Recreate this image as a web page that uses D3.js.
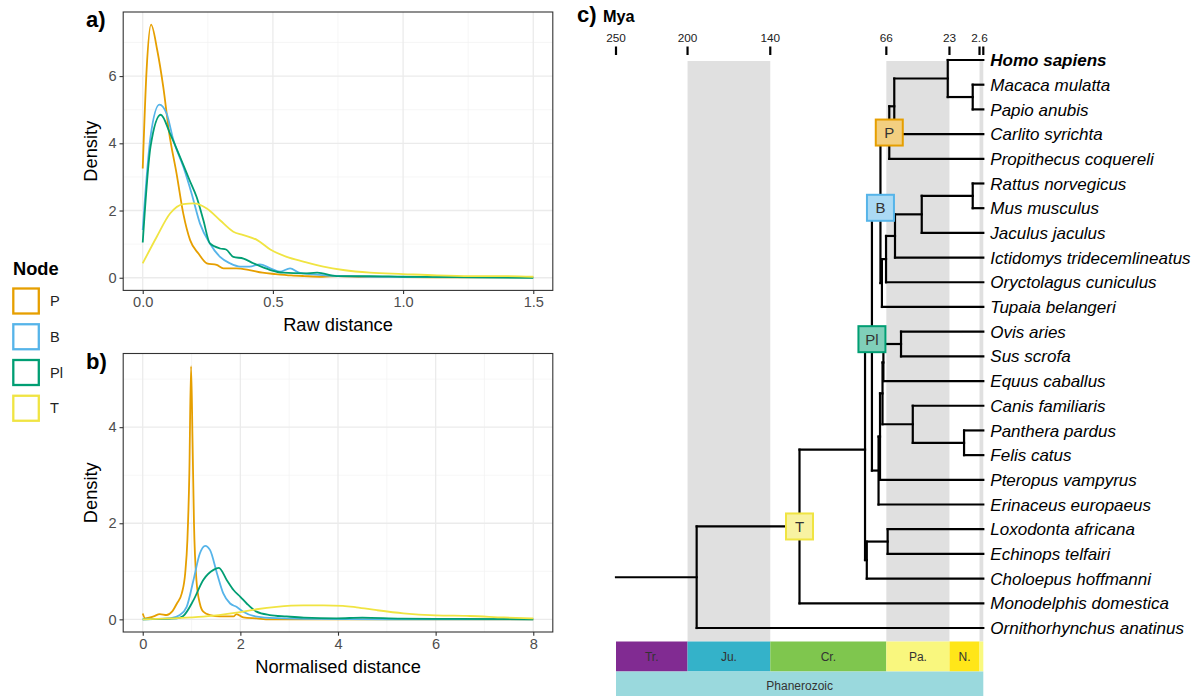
<!DOCTYPE html>
<html>
<head>
<meta charset="utf-8">
<script src="https://cdn.jsdelivr.net/npm/d3@7"></script>
<style>
  body { margin: 0; background: #fff; }
  svg { font-family: "Liberation Sans", Arial, Helvetica, sans-serif; }
</style>
</head>
<body>
<svg id="fig" width="1197" height="696"></svg>
<script>
// ---------- data ----------
const nodeNames = ["P", "B", "Pl", "T"];
const nodeColors = ["#E69F00", "#56B4E9", "#009E73", "#F0E442"];

// density curves, panel a (raw distance)
const rawP = [[0,3.25],[0.015,6.2],[0.032,7.53],[0.056,6.76],[0.079,5.67],[0.102,4.29],[0.13,3.1],[0.156,1.9],[0.182,1.12],[0.214,0.72],[0.246,0.43],[0.284,0.38],[0.31,0.28],[0.36,0.28],[0.41,0.23],[0.46,0.15],[0.51,0.11],[0.57,0.07],[0.62,0.05],[0.69,0.03],[0.75,0.05],[0.85,0.02],[1.0,0.02],[1.2,0.01],[1.5,0.01]];
const rawB = [[0,1.42],[0.03,4.2],[0.064,5.15],[0.092,4.88],[0.118,4.09],[0.156,3.3],[0.188,2.5],[0.22,1.61],[0.258,1.02],[0.297,0.62],[0.335,0.43],[0.374,0.33],[0.41,0.33],[0.45,0.4],[0.49,0.28],[0.527,0.18],[0.566,0.28],[0.6,0.15],[0.655,0.1],[0.72,0.06],[0.87,0.03],[1.1,0.02],[1.5,0.005]];
const rawPl = [[0,1.05],[0.03,3.9],[0.069,4.85],[0.105,4.29],[0.143,3.6],[0.18,2.9],[0.207,2.4],[0.233,1.71],[0.258,1.02],[0.297,0.87],[0.32,0.84],[0.348,0.62],[0.387,0.57],[0.425,0.43],[0.49,0.23],[0.54,0.15],[0.617,0.13],[0.67,0.15],[0.745,0.05],[0.87,0.05],[1.0,0.03],[1.2,0.02],[1.5,0.0]];
const rawT = [[0,0.43],[0.054,1.22],[0.105,1.91],[0.156,2.19],[0.195,2.21],[0.246,2.06],[0.297,1.71],[0.348,1.37],[0.387,1.27],[0.44,1.12],[0.49,0.84],[0.553,0.62],[0.617,0.48],[0.694,0.33],[0.77,0.23],[0.873,0.15],[1.0,0.11],[1.13,0.07],[1.26,0.05],[1.38,0.05],[1.5,0.03]];

// density curves, panel b (normalised distance)
const normP = [[0,0.12],[0.05,0.02],[0.22,0.06],[0.35,0.11],[0.49,0.09],[0.6,0.16],[0.7,0.33],[0.8,0.54],[0.87,0.96],[0.915,1.65],[0.955,3.04],[0.99,5.27],[1.02,3.73],[1.05,2.0],[1.1,0.82],[1.17,0.33],[1.24,0.16],[1.38,0.09],[1.58,0.06],[1.86,0.06],[1.92,0.11],[2.06,0.04],[2.33,0.02],[2.6,0.0],[8,0.0]];
const normB = [[0,0],[0.56,0.02],[0.76,0.09],[0.9,0.26],[1.04,0.82],[1.17,1.37],[1.28,1.53],[1.38,1.44],[1.52,0.96],[1.65,0.54],[1.79,0.33],[1.92,0.26],[2.06,0.16],[2.27,0.07],[2.6,0.03],[3.3,0.01],[5,0.0],[8,0.0]];
const normPl = [[0,0],[0.7,0.02],[0.83,0.07],[1.04,0.4],[1.24,0.82],[1.45,1.03],[1.56,1.07],[1.72,0.82],[1.86,0.61],[2.0,0.47],[2.13,0.33],[2.33,0.16],[2.6,0.09],[2.95,0.06],[3.3,0.035],[3.97,0.02],[4.5,0.035],[5.3,0.014],[6.5,0.01],[8,0.0]];
const normT = [[0,0],[0.56,0.02],[1.24,0.055],[1.92,0.14],[2.33,0.21],[2.74,0.26],[3.29,0.29],[3.7,0.29],[4.1,0.28],[4.38,0.25],[4.8,0.19],[5.34,0.125],[6.0,0.083],[6.7,0.07],[7.4,0.04],[8,0.02]];

const rawTicksX = [0, 0.5, 1.0, 1.5];
const rawTicksY = [0, 2, 4, 6];
const normTicksX = [0, 2, 4, 6, 8];
const normTicksY = [0, 2, 4];

// tree: tips top to bottom, clades as [name, age (Mya), children]
const taxa = ["Homo sapiens", "Macaca mulatta", "Papio anubis", "Carlito syrichta", "Propithecus coquereli",
  "Rattus norvegicus", "Mus musculus", "Jaculus jaculus", "Ictidomys tridecemlineatus", "Oryctolagus cuniculus",
  "Tupaia belangeri", "Ovis aries", "Sus scrofa", "Equus caballus", "Canis familiaris", "Panthera pardus",
  "Felis catus", "Pteropus vampyrus", "Erinaceus europaeus", "Loxodonta africana", "Echinops telfairi",
  "Choloepus hoffmanni", "Monodelphis domestica", "Ornithorhynchus anatinus"];
const clades = [
  ["Cercopithecidae", 7.2, ["Macaca mulatta", "Papio anubis"]],
  ["Catarrhini", 24.2, ["Homo sapiens", "Cercopithecidae"]],
  ["Haplorhini", 60.6, ["Catarrhini", "Carlito syrichta"]],
  ["Primates", 64.0, ["Haplorhini", "Propithecus coquereli"]],
  ["Murinae", 7.2, ["Rattus norvegicus", "Mus musculus"]],
  ["Myodonta", 41.9, ["Murinae", "Jaculus jaculus"]],
  ["Rodentia", 60.1, ["Myodonta", "Ictidomys tridecemlineatus"]],
  ["Glires", 66.2, ["Rodentia", "Oryctolagus cuniculus"]],
  ["GliresScandentia", 69.0, ["Glires", "Tupaia belangeri"]],
  ["Euarchontoglires", 70.0, ["Primates", "GliresScandentia"]],
  ["Cetartiodactyla", 56.0, ["Ovis aries", "Sus scrofa"]],
  ["Euungulata", 68.0, ["Cetartiodactyla", "Equus caballus"]],
  ["Felidae", 13.1, ["Panthera pardus", "Felis catus"]],
  ["Carnivora", 48.0, ["Canis familiaris", "Felidae"]],
  ["Fereuungulata", 68.6, ["Euungulata", "Carnivora"]],
  ["Scrotifera", 70.3, ["Pteropus vampyrus", "Fereuungulata"]],
  ["Laurasiatheria", 71.3, ["Erinaceus europaeus", "Scrotifera"]],
  ["Boreoeutheria", 75.8, ["Euarchontoglires", "Laurasiatheria"]],
  ["Afrotheria", 65.1, ["Loxodonta africana", "Echinops telfairi"]],
  ["Atlantogenata", 79.3, ["Afrotheria", "Choloepus hoffmanni"]],
  ["Placentalia", 80.5, ["Boreoeutheria", "Atlantogenata"]],
  ["Theria", 125.1, ["Placentalia", "Monodelphis domestica"]],
  ["Mammalia", 195.1, ["Theria", "Ornithorhynchus anatinus"]]
];
const rootAge = 250;
const boldTaxa = ["Homo sapiens"];
const nodeLabelClades = ["Primates", "Euarchontoglires", "Boreoeutheria", "Theria"];

// time axis
const timeTicks = [250, 201.3, 145, 66, 23.03, 2.58, 0];
const timeTickLabels = ["250", "200", "140", "66", "23", "2.6", ""];
const shadedSpans = [[201.3, 145], [66, 23.03], [2.58, 0]];
const periodNames = ["Tr.", "Ju.", "Cr.", "Pa.", "N.", ""];
const periodStart = [250, 201.3, 145, 66, 23.03, 2.58];
const periodEnd = [201.3, 145, 66, 23.03, 2.58, 0];
const periodColors = ["#812B92", "#34B2C9", "#7FC64E", "#F9F77E", "#FFE619", "#F9F97F"];
const eonName = "Phanerozoic";
const eonColor = "#9AD9DD";

// ---------- drawing ----------
const svg = d3.select("#fig");
svg.append("rect").attr("width", 1197).attr("height", 696).attr("fill", "#fff");

function drawDensityPanel(box, xDomain, yDomain, xTicks, yTicks, xMinor, yMinor, series, xTitle, tag, xFmt) {
  const g = svg.append("g");
  const x = d3.scaleLinear().domain(xDomain).range([box.x0, box.x1]);
  const y = d3.scaleLinear().domain(yDomain).range([box.y1, box.y0]);

  // grid
  g.selectAll(".minx").data(xMinor).enter().append("line")
    .attr("x1", d => x(d)).attr("x2", d => x(d)).attr("y1", box.y0).attr("y2", box.y1)
    .attr("stroke", "#F2F2F2").attr("stroke-width", 0.7);
  g.selectAll(".miny").data(yMinor).enter().append("line")
    .attr("y1", d => y(d)).attr("y2", d => y(d)).attr("x1", box.x0).attr("x2", box.x1)
    .attr("stroke", "#F2F2F2").attr("stroke-width", 0.7);
  g.selectAll(".majx").data(xTicks).enter().append("line")
    .attr("x1", d => x(d)).attr("x2", d => x(d)).attr("y1", box.y0).attr("y2", box.y1)
    .attr("stroke", "#EBEBEB").attr("stroke-width", 1.3);
  g.selectAll(".majy").data(yTicks).enter().append("line")
    .attr("y1", d => y(d)).attr("y2", d => y(d)).attr("x1", box.x0).attr("x2", box.x1)
    .attr("stroke", "#EBEBEB").attr("stroke-width", 1.3);

  // curves
  const line = d3.line().x(d => x(d[0])).y(d => y(d[1])).curve(d3.curveMonotoneX);
  series.forEach((s, i) => {
    g.append("path").datum(s).attr("d", line)
      .attr("fill", "none").attr("stroke", nodeColors[i]).attr("stroke-width", 1.8);
  });

  // border
  g.append("rect").attr("x", box.x0).attr("y", box.y0)
    .attr("width", box.x1 - box.x0).attr("height", box.y1 - box.y0)
    .attr("fill", "none").attr("stroke", "#333").attr("stroke-width", 1.1);

  // axes
  const xAxis = g.append("g").attr("transform", `translate(0,${box.y1})`)
    .call(d3.axisBottom(x).tickValues(xTicks).tickSize(3.7).tickPadding(3).tickFormat(xFmt));
  const yAxis = g.append("g").attr("transform", `translate(${box.x0},0)`)
    .call(d3.axisLeft(y).tickValues(yTicks).tickSize(3.7).tickPadding(3).tickFormat(d3.format("d")));
  [xAxis, yAxis].forEach(a => {
    a.select(".domain").remove();
    a.selectAll("line").attr("stroke", "#333").attr("stroke-width", 1.1);
    a.selectAll("text").attr("fill", "#4D4D4D").style("font-size", "14.6px").style("font-family", "Liberation Sans, Arial, sans-serif");
  });

  g.append("text").attr("x", (box.x0 + box.x1) / 2).attr("y", box.y1 + 41)
    .attr("text-anchor", "middle").style("font-size", "18.3px").text(xTitle);
  g.append("text").attr("transform", `translate(${box.x0 - 26},${(box.y0 + box.y1) / 2}) rotate(-90)`)
    .attr("text-anchor", "middle").style("font-size", "18.3px").text("Density");
  g.append("text").attr("x", 86).attr("y", box.y0 + 15)
    .style("font-size", "22px").style("font-weight", "bold").text(tag);
}

// panel a: 0..1.5 with ggplot 5% expansion
drawDensityPanel({ x0: 123.2, x1: 552.8, y0: 12, y1: 290.4 },
  [-0.075, 1.575], [-0.3765, 7.9065], rawTicksX, rawTicksY,
  [0.25, 0.75, 1.25], [1, 3, 5, 7], [rawP, rawB, rawPl, rawT], "Raw distance", "a)", d3.format(".1f"));

// panel b: 0..8
drawDensityPanel({ x0: 123.2, x1: 552.8, y0: 353.5, y1: 632 },
  [-0.4, 8.4], [-0.2635, 5.5335], normTicksX, normTicksY,
  [1, 3, 5, 7], [1, 3, 5], [normP, normB, normPl, normT], "Normalised distance", "b)", d3.format("d"));

// legend
const leg = svg.append("g");
leg.append("text").attr("x", 13).attr("y", 275).style("font-size", "18.3px").style("font-weight", "bold").text("Node");
const legScale = d3.scaleBand().domain(nodeNames).range([287, 430]);
nodeNames.forEach((n, i) => {
  leg.append("rect").attr("x", 13.3).attr("y", legScale(n) + 1.5).attr("width", 25.5).attr("height", 25)
    .attr("fill", "#fff").attr("stroke", nodeColors[i]).attr("stroke-width", 2.3);
  leg.append("text").attr("x", 50).attr("y", legScale(n) + 14).attr("dy", "0.35em")
    .style("font-size", "14.6px").attr("fill", "#222").text(n);
});

// ---------- tree panel ----------
const xT = d3.scaleLinear().domain([250, 0]).range([616, 983.3]);
const yT = d3.scaleLinear().domain([0, taxa.length - 1]).range([60, 628]);
const tg = svg.append("g");

// shaded bands
tg.selectAll(".band").data(shadedSpans).enter().append("rect")
  .attr("x", d => xT(d[0])).attr("width", d => xT(d[1]) - xT(d[0]))
  .attr("y", 61).attr("height", 641.5 - 61).attr("fill", "#E0E0E0");

// top time axis
tg.append("text").attr("x", 577).attr("y", 22).style("font-size", "22px").style("font-weight", "bold").text("c)");
tg.append("text").attr("x", 603).attr("y", 22).style("font-size", "16.3px").style("font-weight", "bold").text("Mya");
tg.selectAll(".tt").data(timeTicks).enter().append("line")
  .attr("x1", d => xT(d)).attr("x2", d => xT(d)).attr("y1", 46.5).attr("y2", 55)
  .attr("stroke", "#000").attr("stroke-width", 2.2);
tg.selectAll(".tl").data(timeTicks).enter().append("text")
  .attr("x", d => xT(d)).attr("y", 42).attr("text-anchor", "middle")
  .style("font-size", "11.8px").attr("fill", "#222").text((d, i) => timeTickLabels[i]);

// layout: y for tips by order, internal nodes at mean of children
const pos = {};
taxa.forEach((t, i) => { pos[t] = { age: 0, y: yT(i), tip: true }; });
clades.forEach(([name, age, kids]) => {
  pos[name] = { age: age, y: d3.mean(kids, k => pos[k].y), kids: kids };
});
const parentOf = {};
clades.forEach(([name, age, kids]) => kids.forEach(k => { parentOf[k] = name; }));

const treeLines = [];
clades.forEach(([name, age, kids]) => {
  const ys = kids.map(k => pos[k].y);
  treeLines.push([xT(age), d3.min(ys), xT(age), d3.max(ys)]);
});
Object.keys(pos).forEach(n => {
  const p = parentOf[n];
  const x0 = p ? xT(pos[p].age) : xT(rootAge);
  treeLines.push([x0, pos[n].y, xT(pos[n].age), pos[n].y]);
});
tg.selectAll(".edge").data(treeLines).enter().append("line")
  .attr("x1", d => d[0]).attr("y1", d => d[1]).attr("x2", d => d[2]).attr("y2", d => d[3])
  .attr("stroke", "#000").attr("stroke-width", 2.2).attr("stroke-linecap", "square");

// tip labels
tg.selectAll(".tip").data(taxa).enter().append("text")
  .attr("x", xT(0) + 7).attr("y", d => pos[d].y).attr("dy", "0.36em")
  .style("font-size", "17px").style("font-style", "italic")
  .style("font-weight", d => boldTaxa.includes(d) ? "bold" : "normal")
  .text(d => d);

// node label boxes (opaque so the branches sit behind them)
nodeLabelClades.forEach((c, i) => {
  const cx = xT(pos[c].age), cy = pos[c].y;
  const fill = d3.interpolateRgb(nodeColors[i], "#ffffff")(0.5);
  tg.append("rect").attr("x", cx - 13.5).attr("y", cy - 13).attr("width", 27).attr("height", 26)
    .attr("fill", fill).attr("stroke", nodeColors[i]).attr("stroke-width", 2);
  tg.append("text").attr("x", cx).attr("y", cy).attr("dy", "0.36em").attr("text-anchor", "middle")
    .style("font-size", "15px").attr("fill", "#333").text(nodeNames[i]);
});

// geological time bar
const bar = tg.append("g");
periodNames.forEach((n, i) => {
  const xa = xT(periodStart[i]), xb = xT(periodEnd[i]);
  bar.append("rect").attr("x", xa).attr("y", 641.5).attr("width", xb - xa).attr("height", 30)
    .attr("fill", periodColors[i]);
  bar.append("text").attr("x", (xa + xb) / 2).attr("y", 656.5).attr("dy", "0.35em")
    .attr("text-anchor", "middle").style("font-size", "12px").attr("fill", "#333").text(n);
});
bar.append("rect").attr("x", xT(250)).attr("y", 671.5).attr("width", xT(0) - xT(250)).attr("height", 26)
  .attr("fill", eonColor);
bar.append("text").attr("x", (xT(250) + xT(0)) / 2).attr("y", 686).attr("dy", "0.35em")
  .attr("text-anchor", "middle").style("font-size", "12px").attr("fill", "#333").text(eonName);
</script>
</body>
</html>
